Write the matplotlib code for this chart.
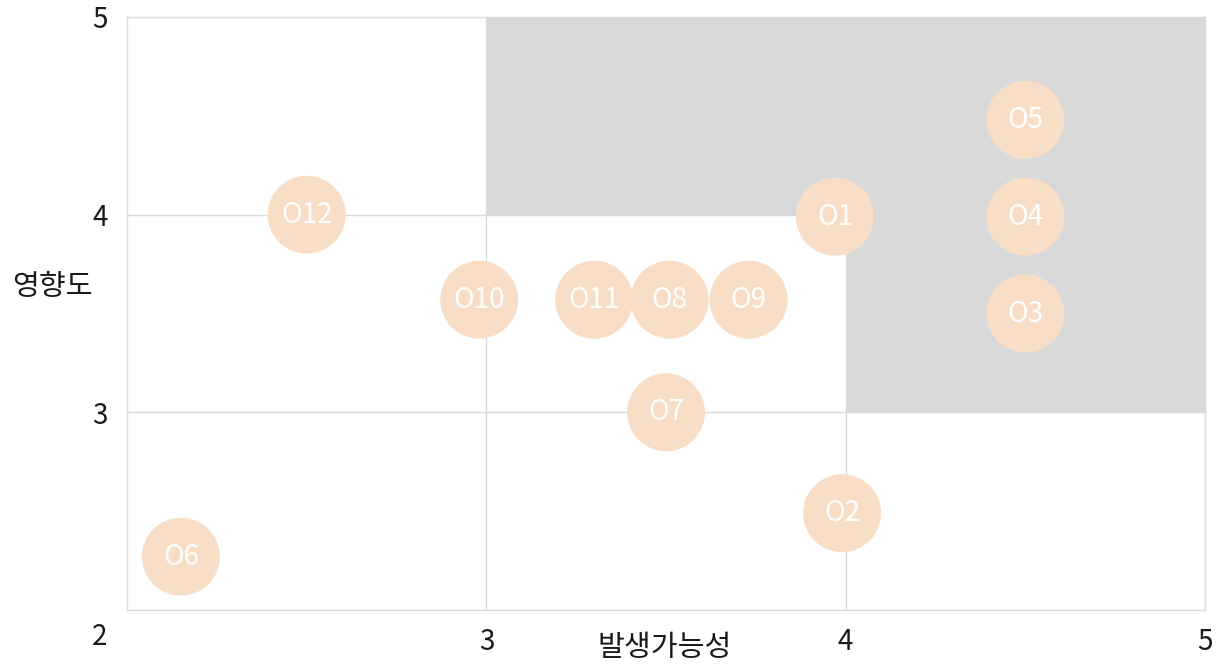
import matplotlib
matplotlib.use('Agg')
import matplotlib.pyplot as plt
from matplotlib.patches import Polygon

plt.rcParams['font.family'] = ['Noto Sans CJK KR', 'DejaVu Sans']

# risk items: likelihood (x) and impact (y)
labels = ['O1', 'O2', 'O3', 'O4', 'O5', 'O6', 'O7', 'O8', 'O9', 'O10', 'O11', 'O12']
likelihood = [3.97, 3.99, 4.5, 4.5, 4.5, 2.15, 3.5, 3.51, 3.73, 2.98, 3.3, 2.5]
impact = [3.99, 2.49, 3.5, 3.99, 4.48, 2.27, 3.0, 3.57, 3.57, 3.57, 3.57, 4.0]

# high risk zone outline
zone_x = [3, 5, 5, 4, 4, 3]
zone_y = [5, 5, 3, 3, 4, 4]

ticks = [3, 4, 5]
x_title = '발생가능성'
y_title = '영향도'

bubble_color = '#F8DEC7'
zone_color = '#D9D9D9'
grid_color = '#D9D9D9'
text_color = '#1a1a1a'

fig = plt.figure(figsize=(12.29, 6.64), dpi=100)
ax = fig.add_axes([127 / 1229, 1 - 610 / 664, 1078 / 1229, 593 / 664])

ax.add_patch(Polygon(list(zip(zone_x, zone_y)), closed=True,
                     facecolor=zone_color, edgecolor='none', zorder=0))

ax.set_xlim(2, 5)
ax.set_ylim(2, 5)
ax.set_xticks(ticks)
ax.set_yticks(ticks)
ax.grid(True, color=grid_color, linewidth=1, zorder=1)
ax.set_axisbelow(True)
for s in ax.spines.values():
    s.set_color(grid_color)
    s.set_linewidth(1)
ax.tick_params(length=0, labelsize=20, colors=text_color, pad=14)
ax.tick_params(axis='x', pad=12)
for t in ax.get_xticklabels() + ax.get_yticklabels():
    t.set_fontweight('light')

# shared corner label
ax.text(-0.018, -0.045, '2', transform=ax.transAxes, ha='right', va='center',
        fontsize=20, color=text_color, fontweight='light')

ax.scatter(likelihood, impact, s=3150, color=bubble_color, edgecolors='none',
           zorder=3, clip_on=False)
for lab, x, y in zip(labels, likelihood, impact):
    ax.text(x, y, lab, ha='center', va='center', color='white', fontsize=20,
            fontweight='light', zorder=4)

ax.set_xlabel(x_title, fontsize=21, color=text_color, fontweight='light')
ax.xaxis.set_label_coords(0.499, -0.064)
ax.set_ylabel(y_title, fontsize=21, color=text_color, fontweight='light',
              rotation=0, va='center', ha='center')
ax.yaxis.set_label_coords(-0.0696, 0.545)
ax.xaxis.label.set_va('center')

fig.savefig('out.png', dpi=100)
